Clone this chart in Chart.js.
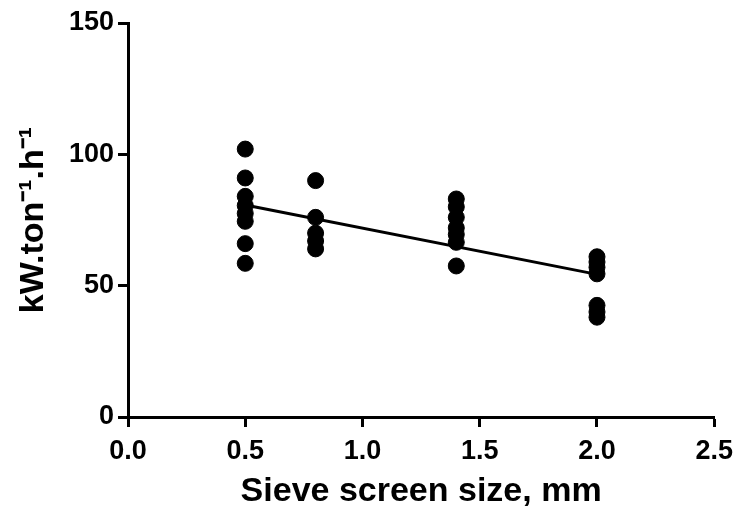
<!DOCTYPE html>
<html>
<head>
<meta charset="utf-8">
<script src="https://cdn.jsdelivr.net/npm/chart.js@4"></script>
<style>
  html, body { margin: 0; padding: 0; background: #fff; }
  #wrap { width: 741px; height: 509px; }
</style>
</head>
<body>
<div id="wrap"><canvas id="sieveChart"></canvas></div>
<script>
// screen sizes (mm) and measured specific energy (kW.ton-1.h-1)
const sizes05 = [102, 91, 84, 80.5, 77.5, 74.5, 66, 58.5];
const sizes08 = [90, 76, 70, 67, 64];
const sizes14 = [83, 80, 76, 72, 69.5, 66.5, 57.5];
const sizes20 = [61, 59, 57, 54.5, 42.5, 40, 38];
const screenSizes = [0.5, 0.8, 1.4, 2.0];
const xTicks = [0, 0.5, 1, 1.5, 2, 2.5];
const yTicks = [0, 50, 100, 150];

const groups = [sizes05, sizes08, sizes14, sizes20];
const points = [];
groups.forEach((vals, i) => {
  vals.forEach(v => points.push({ x: screenSizes[i], y: v }));
});

// least squares fit for the line
const n = points.length;
const mx = points.reduce((s, p) => s + p.x, 0) / n;
const my = points.reduce((s, p) => s + p.y, 0) / n;
let sxy = 0, sxx = 0;
points.forEach(p => { sxy += (p.x - mx) * (p.y - my); sxx += (p.x - mx) * (p.x - mx); });
const slope = sxy / sxx;
const intercept = my - slope * mx;
const fitLine = [0.5, 2.0].map(x => ({ x: x, y: intercept + slope * x }));

const font = { family: '"Liberation Sans", Arial, sans-serif', weight: 'bold' };

new Chart(document.getElementById('sieveChart'), {
  type: 'scatter',
  data: {
    datasets: [
      {
        data: points,
        backgroundColor: '#000',
        borderColor: '#000',
        pointRadius: 8,
        pointHoverRadius: 8
      },
      {
        type: 'line',
        data: fitLine,
        borderColor: '#000',
        borderWidth: 3,
        pointRadius: 0,
        fill: false
      }
    ]
  },
  options: {
    responsive: true,
    maintainAspectRatio: false,
    animation: false,
    layout: { padding: { top: 23, right: 26, left: 0, bottom: 0 } },
    plugins: { legend: { display: false }, tooltip: { enabled: false } },
    scales: {
      x: {
        type: 'linear',
        min: 0,
        max: 2.5,
        afterBuildTicks: axis => { axis.ticks = xTicks.map(v => ({ value: v })); },
        afterFit: axis => { axis.height = 92; },
        grid: { drawOnChartArea: false, drawTicks: true, tickLength: 10, tickWidth: 3, color: '#000' },
        border: { color: '#000', width: 3 },
        ticks: { color: '#000', font: { ...font, size: 27 }, padding: 8, callback: v => v.toFixed(1) },
        title: { display: true, text: 'Sieve screen size, mm', color: '#000', font: { ...font, size: 34, lineHeight: 1 }, padding: { top: 8, bottom: 0 } }
      },
      y: {
        type: 'linear',
        min: 0,
        max: 150,
        afterBuildTicks: axis => { axis.ticks = yTicks.map(v => ({ value: v })); },
        afterFit: axis => { axis.width = 128; },
        grid: { drawOnChartArea: false, drawTicks: true, tickLength: 10, tickWidth: 3, color: '#000' },
        border: { color: '#000', width: 3 },
        ticks: { color: '#000', font: { ...font, size: 27 }, padding: 4 },
        title: { display: true, text: 'kW.ton\u207B\u00B9.h\u207B\u00B9', color: '#000', font: { ...font, size: 34 }, padding: { top: 13, bottom: 4 } }
      }
    }
  }
});
</script>
</body>
</html>
